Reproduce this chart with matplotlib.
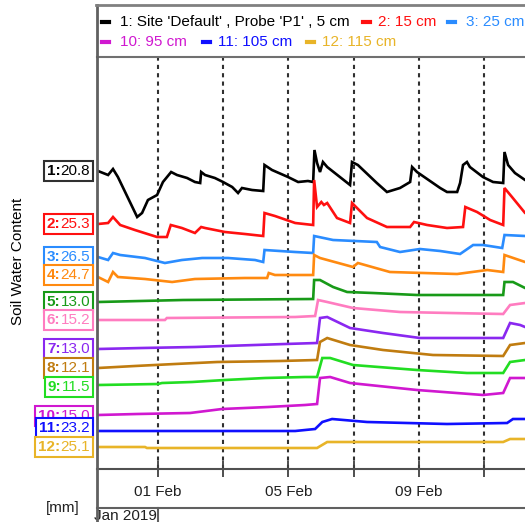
import datetime
import matplotlib
matplotlib.use("Agg")
import matplotlib.pyplot as plt
import matplotlib.dates as mdates
import matplotlib.transforms as mtransforms
from matplotlib.lines import Line2D
from matplotlib.offsetbox import TextArea, HPacker, AnnotationBbox

plt.rcParams['font.family'] = ['Liberation Sans', 'DejaVu Sans']

# depth labels and start values shown in the boxes
depths = ["Site 'Default' , Probe 'P1' , 5 cm", "15 cm", "25 cm", "35 cm", "45 cm", "55 cm",
          "65 cm", "75 cm", "85 cm", "95 cm", "105 cm", "115 cm"]
start_vals = ["20.8", "25.3", "26.5", "24.7", "13.0", "15.2", "13.0", "12.1", "11.5", "15.0", "23.2", "25.1"]
colors = ["#000000", "#ff1010", "#2a8cff", "#ff8a10", "#189a18", "#ff7cc0",
          "#8a28f0", "#c07c10", "#22dd22", "#d018d0", "#1010ff", "#e8b428"]

# days since 01 Feb 2019 / plotted level (each probe scaled in its own band)
t1 = [-1.83, -1.52, -1.37, -1.22, -0.63, -0.48, -0.30, -0.02, 0.16, 0.41, 0.59, 0.90, 1.14, 1.30, 1.33, 1.45,
      1.75, 2.00, 2.28, 2.46, 2.58, 2.89, 3.23, 3.27, 3.50, 3.99, 4.30, 4.60, 4.76, 4.80, 4.88, 4.97, 5.06, 5.19,
      5.89, 5.95, 6.13, 6.71, 7.02, 7.42, 7.73, 7.79, 7.94, 8.65, 8.86, 9.17, 9.26, 9.35, 9.47, 9.56, 9.96,
      10.27, 10.58, 10.62, 10.73, 10.94, 11.25, 12.3]
v1 = [298, 294, 300, 292, 252, 256, 269, 274, 287, 297, 294, 291, 287, 286, 297, 294,
      291, 287, 282, 276, 281, 279, 278, 304, 299, 292, 287, 288, 287, 319, 306, 297, 307, 302,
      284, 307, 304, 286, 277, 281, 287, 302, 297, 281, 277, 277, 286, 304, 307, 302, 292,
      287, 286, 317, 304, 296, 289, 282]

t2 = [-1.83, -1.52, -1.37, -1.15, -0.70, -0.02, 0.28, 0.40, 0.74, 1.14, 1.33, 1.45, 2.06, 2.67, 3.23, 3.27,
      3.59, 4.21, 4.76, 4.79, 4.88, 5.01, 5.09, 5.19, 5.49, 5.89, 5.95, 6.41, 7.02, 7.73, 7.85, 8.25, 8.86,
      9.35, 9.42, 9.78, 10.18, 10.58, 10.62, 10.85, 11.25, 12.3]
v2 = [245, 246, 252, 244, 239, 232, 232, 244, 241, 236, 242, 241, 237, 235, 233, 256,
      253, 246, 244, 289, 262, 267, 264, 266, 251, 246, 266, 251, 242, 242, 247, 244, 241,
      242, 262, 257, 249, 244, 281, 272, 256, 245]

t3 = [-1.83, -1.52, -1.37, -1.15, -0.39, 0.22, 0.74, 1.36, 2.15, 2.98, 3.23, 3.27, 4.21, 4.76, 4.79, 5.37,
      6.71, 6.81, 7.42, 8.03, 8.65, 9.26, 9.66, 9.96, 10.55, 10.62, 11.25, 12.3]
v3 = [212, 209, 216, 214, 211, 206, 209, 211, 211, 209, 207, 219, 217, 216, 233, 229,
      227, 222, 217, 220, 218, 215, 224, 224, 221, 234, 233, 231]

t4 = [-1.83, -1.52, -1.37, -1.22, -0.39, 0.44, 1.14, 2.67, 3.35, 3.40, 3.59, 4.76, 4.79, 4.97, 5.98, 6.13,
      7.11, 9.17, 10.09, 10.58, 10.62, 11.25, 12.3]
v4 = [192, 187, 197, 192, 190, 187, 190, 191, 191, 196, 194, 194, 214, 211, 202, 206,
      197, 195, 199, 197, 214, 207, 203]

t5 = [-1.83, 0.77, 4.76, 4.79, 4.97, 5.37, 5.80, 6.59, 7.94, 10.58, 10.62, 10.88, 11.25, 12.3]
v5 = [167, 169, 170, 189, 189, 182, 177, 176, 174, 174, 187, 187, 181, 178]

t6 = [-1.83, 0.22, 0.28, 4.21, 4.82, 4.91, 5.19, 5.98, 7.42, 8.95, 10.58, 10.79, 11.25, 12.3]
v6 = [149, 149, 151, 152, 153, 169, 167, 161, 157, 156, 155, 164, 166, 163]

t7 = [-1.83, -0.48, 1.14, 3.90, 4.88, 4.97, 5.19, 5.89, 6.90, 8.03, 10.58, 10.79, 11.10, 11.25, 12.3]
v7 = [120, 121, 122, 125, 126, 151, 152, 141, 136, 131, 131, 146, 144, 142, 138]

t8 = [-1.83, -0.70, 0.53, 1.82, 3.75, 4.88, 4.97, 5.19, 5.89, 6.90, 8.43, 10.58, 10.79, 11.25, 12.3]
v8 = [101, 103, 105, 107, 108, 109, 127, 131, 124, 119, 114, 113, 124, 126, 123]

t9 = [-1.83, 0.01, 0.13, 1.05, 2.06, 3.29, 4.51, 4.88, 5.04, 5.28, 5.98, 7.94, 9.47, 10.58, 10.79, 11.25, 12.3]
v9 = [84, 85, 86, 87, 89, 91, 92, 92, 111, 111, 104, 99, 96, 96, 107, 109, 106]

t10 = [-1.83, -0.63, 0.99, 1.97, 3.38, 4.51, 4.88, 4.97, 5.28, 5.89, 7.94, 9.96, 10.58, 10.79, 11.25, 12.3]
v10 = [54, 55, 56, 60, 62, 64, 65, 91, 92, 86, 79, 74, 76, 91, 91, 88]

t11 = [-1.83, 4.21, 4.82, 5.04, 5.34, 6.41, 8.86, 10.70, 10.88, 11.25, 12.3]
v11 = [38, 38, 40, 47, 50, 47, 45, 46, 50, 50, 50]

t12 = [-1.83, -0.39, -0.33, 4.88, 5.19, 6.41, 10.58, 10.79, 11.25, 12.3]
v12 = [22, 22, 21, 21, 27, 27, 27, 30, 30, 30]

times = [t1, t2, t3, t4, t5, t6, t7, t8, t9, t10, t11, t12]
levels = [v1, v2, v3, v4, v5, v6, v7, v8, v9, v10, v11, v12]
label_nudge = [0, 0, 0, 2, 0, 0, 0, 0, -2, -1, 3, 0]

W, H = 525, 522
fig = plt.figure(figsize=(W / 100, H / 100), dpi=100)
ax = fig.add_axes([97 / W, (H - 469) / H, (560 - 97) / W, (469 - 57) / H])

base = mdates.date2num(datetime.datetime(2019, 2, 1))
for i in range(12):
    ax.plot([base + t for t in times[i]], levels[i], color=colors[i], lw=1.9, solid_joinstyle='miter')

ax.set_xlim(base - 1.86, base + 12.32)
ax.set_ylim(0, 412)
ax.set_yticks([])
ax.xaxis.set_major_locator(mdates.DayLocator(bymonthday=[1, 3, 5, 7, 9, 11]))


def fmt(x, pos):
    d = mdates.num2date(x)
    return d.strftime('%d %b') if d.day in (1, 5, 9) else ''


ax.xaxis.set_major_formatter(plt.FuncFormatter(fmt))
ax.tick_params(axis='x', direction='inout', length=11, width=1.3, color='#404040',
               labelsize=11, pad=6, labelcolor='#202020')
ax.grid(axis='x', linestyle=(0, (2, 2)), color='#303030', lw=1.5)
for s in ['left', 'right']:
    ax.spines[s].set_visible(False)
ax.spines['bottom'].set_color('#505050')
ax.spines['bottom'].set_linewidth(1.5)
ax.spines['top'].set_color('#707070')
ax.spines['top'].set_linewidth(1.5)

# frame lines outside the plot area
def fline(x0, y0, x1, y1, lw=1.5, c='#606060'):
    fig.add_artist(Line2D([x0 / W, x1 / W], [1 - y0 / H, 1 - y1 / H], color=c, lw=lw, zorder=10))


fline(97, 5, 97, 522, lw=2)
fline(96, 5, 525, 5, lw=2, c='#808080')
fline(97, 508, 525, 508)
fline(158, 508, 158, 522)

# legend (flowing rows)
leg_items = [(0, 102, 120, 22), (1, 363, 378, 22), (2, 448, 466, 22),
             (9, 102, 120, 42), (10, 203, 218, 42), (11, 307, 322, 42)]
for k, mx, tx, y in leg_items:
    fline(mx, y, mx + 7, y, lw=3, c=colors[k])
    fig.text(tx / W, 1 - y / H, f"{k + 1}: {depths[k]}", color=colors[k], fontsize=11,
             ha='left', va='center')

# value boxes
tr = mtransforms.blended_transform_factory(fig.transFigure, ax.transData)
for i in range(12):
    c = colors[i] if i > 0 else '#303030'
    box = HPacker(children=[TextArea(f"{i + 1}:", textprops=dict(color=colors[i], fontsize=11, fontweight='bold')),
                            TextArea(start_vals[i], textprops=dict(color=colors[i], fontsize=11))],
                  pad=0, sep=0)
    ab = AnnotationBbox(box, (90 / W, levels[i][0] + label_nudge[i]), xycoords=tr, box_alignment=(1, 0.5),
                        pad=0.2, frameon=True, annotation_clip=False,
                        bboxprops=dict(edgecolor=c, facecolor='white', lw=1.5, boxstyle='square,pad=0.2'))
    ab.set_zorder(5 + i)
    fig.add_artist(ab)

fig.text(18 / W, 1 - 261 / H, 'Soil Water Content', rotation=90, ha='center', va='center', fontsize=11)
fig.text(63 / W, 1 - 508 / H, '[mm]', ha='center', va='center', fontsize=11, color='#202020')
fig.text(94 / W, 1 - 509 / H, 'Jan 2019', ha='left', va='top', fontsize=11, color='#202020')

fig.savefig('out.png', dpi=100)
